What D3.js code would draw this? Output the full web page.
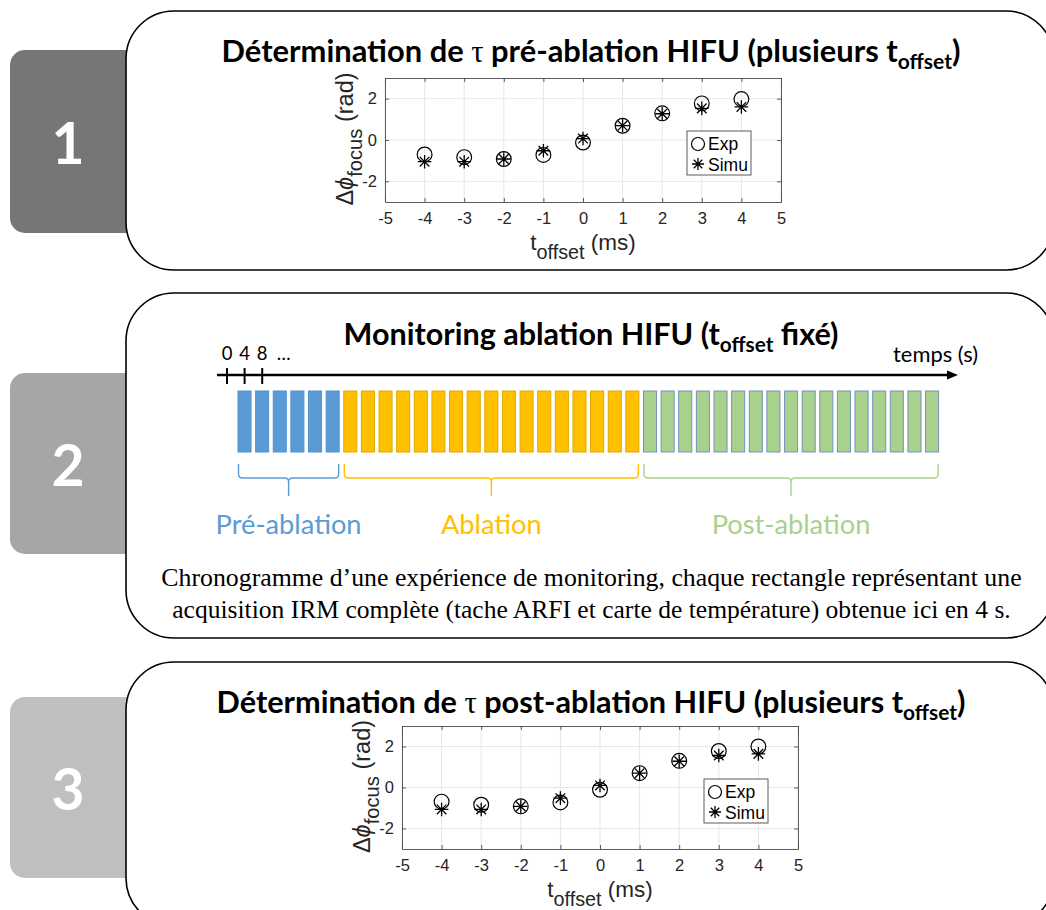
<!DOCTYPE html>
<html><head><meta charset="utf-8">
<script src="https://cdn.jsdelivr.net/npm/d3@7"></script>
<style>body{margin:0;background:#fff}</style>
</head><body>
<svg id="c" width="1046" height="910"></svg>
<script>
// ---------------- DATA ----------------
const offsets = [-4, -3, -2, -1, 0, 1, 2, 3, 4];
const preExp   = [-0.70, -0.83, -0.92, -0.72, -0.12, 0.69, 1.29, 1.77, 1.98];
const preSimu  = [-1.05, -1.05, -0.92, -0.52, 0.07, 0.70, 1.27, 1.53, 1.60];
const postExp  = [-0.69, -0.84, -0.92, -0.73, -0.11, 0.70, 1.30, 1.78, 2.00];
const postSimu = [-1.07, -1.07, -0.92, -0.52, 0.10, 0.70, 1.28, 1.56, 1.64];
const xTicks = [-5, -4, -3, -2, -1, 0, 1, 2, 3, 4, 5];
const yTicks = [-2, 0, 2];
const legendLabels = ["Exp", "Simu"];
const stepLabels = ["1", "2", "3"];
const phaseNames = ["Pré-ablation", "Ablation", "Post-ablation"];
const phaseCounts = [6, 17, 17];
const timeTicks = [0, 4, 8];
const timeTickLabels = ["0", "4", "8"];
const captionLines = [
  "Chronogramme d\u2019une expérience de monitoring, chaque rectangle représentant une",
  "acquisition IRM complète (tache ARFI et carte de température) obtenue ici en 4 s."
];

// ---------------- STYLE ----------------
const stepColors = ["#767676", "#a6a6a6", "#bfbfbf"];
const phaseFill = ["#5b9bd5", "#ffc000", "#a9d18e"];
const phaseStroke = ["#4f93d2", "#e0a900", "#7393b8"];
const phaseText = ["#5b9bd5", "#ffc000", "#a9d18e"];
const SANS = "Lato, 'Open Sans', sans-serif";
const MAT = "'Liberation Sans', Arial, sans-serif";
const SERIF = "'Liberation Serif', 'Times New Roman', serif";

const svg = d3.select("#c");
svg.append("rect").attr("width", 1046).attr("height", 910).attr("fill", "#fff");

function fitWidth(t, target) {
  const fs = parseFloat(t.attr("font-size"));
  const w = t.node().getBBox().width;
  if (w > 0) t.attr("font-size", fs * target / w);
}

// ---------------- STEP BOXES + PANELS ----------------
const boxes = [{y: 50, h: 183}, {y: 373, h: 181}, {y: 697, h: 181}];
const panels = [{y: 11, h: 259}, {y: 293, h: 345}, {y: 662, h: 264}];
boxes.forEach((b, i) => {
  svg.append("rect").attr("x", 10).attr("y", b.y).attr("width", 130).attr("height", b.h)
    .attr("rx", 15).attr("fill", stepColors[i]);
});
panels.forEach(p => {
  svg.append("rect").attr("x", 126).attr("y", p.y).attr("width", 928).attr("height", p.h)
    .attr("rx", 48).attr("fill", "#fff").attr("stroke", "#000").attr("stroke-width", 1.6);
});
boxes.forEach((b, i) => {
  svg.append("text").attr("x", 68).attr("y", b.y + b.h / 2 + 22)
    .attr("text-anchor", "middle").attr("font-family", SANS).attr("font-weight", 700)
    .attr("font-size", 57).attr("fill", "#fff").text(stepLabels[i]);
});

// ---------------- TITLES ----------------
function title(y, parts, target) {
  const t = svg.append("text").attr("x", 591).attr("y", y).attr("text-anchor", "middle")
    .attr("font-family", SANS).attr("font-weight", 700).attr("font-size", 26).attr("fill", "#000");
  parts.forEach(p => {
    const s = t.append("tspan").text(p.t);
    if (p.serif) s.attr("font-family", SERIF).attr("font-weight", 400);
    if (p.sub) s.style("font-size", "68%").attr("dy", "0.35em");
    if (p.up) s.attr("dy", "-0.24em");
  });
  fitWidth(t, target);
  return t;
}
title(62, [{t: "Détermination de "}, {t: "\u03c4", serif: true}, {t: " pré-ablation HIFU (plusieurs t"},
  {t: "offset", sub: true}, {t: ")", up: true}], 739);
title(345, [{t: "Monitoring ablation HIFU (t"}, {t: "offset", sub: true}, {t: " fixé)", up: true}], 495);
title(713, [{t: "Détermination de "}, {t: "\u03c4", serif: true}, {t: " post-ablation HIFU (plusieurs t"},
  {t: "offset", sub: true}, {t: ")", up: true}], 749);

// ---------------- SCATTER PLOTS ----------------
function drawPlot(L, R, T, B, exp, simu) {
  const g = svg.append("g");
  const x = d3.scaleLinear().domain([-5, 5]).range([L, R]);
  const y = d3.scaleLinear().domain([-3, 3]).range([B, T]);
  g.append("g").selectAll("line").data(xTicks).join("line")
    .attr("x1", d => x(d)).attr("x2", d => x(d)).attr("y1", T).attr("y2", B)
    .attr("stroke", "#e6e6e6").attr("stroke-width", 1);
  g.append("g").selectAll("line").data(yTicks).join("line")
    .attr("y1", d => y(d)).attr("y2", d => y(d)).attr("x1", L).attr("x2", R)
    .attr("stroke", "#e6e6e6").attr("stroke-width", 1);

  const fmt = d => String(d);
  const axB = g.append("g").attr("transform", `translate(0,${B})`)
    .call(d3.axisBottom(x).tickValues(xTicks).tickSizeInner(-4).tickSizeOuter(0).tickPadding(10).tickFormat(fmt));
  const axL = g.append("g").attr("transform", `translate(${L},0)`)
    .call(d3.axisLeft(y).tickValues(yTicks).tickSizeInner(-4).tickSizeOuter(0).tickPadding(8).tickFormat(fmt));
  g.append("g").attr("transform", `translate(0,${T})`)
    .call(d3.axisTop(x).tickValues(xTicks).tickSizeInner(-4).tickSizeOuter(0).tickFormat(""));
  g.append("g").attr("transform", `translate(${R},0)`)
    .call(d3.axisRight(y).tickValues(yTicks).tickSizeInner(-4).tickSizeOuter(0).tickFormat(""));
  g.selectAll(".domain, .tick line").attr("stroke", "#4a4a4a").attr("stroke-width", 0.9);
  [axB, axL].forEach(a => a.selectAll("text").attr("font-family", MAT).attr("font-size", 16.5).attr("fill", "#262626"));

  const pts = offsets.map((o, i) => ({o, e: exp[i], s: simu[i]}));
  g.append("g").selectAll("circle").data(pts).join("circle")
    .attr("cx", d => x(d.o)).attr("cy", d => y(d.e)).attr("r", 7.4)
    .attr("fill", "none").attr("stroke", "#000").attr("stroke-width", 1.2);
  const star = (cx, cy, a) => {
    const b = a * 0.7071;
    return `M${cx - a},${cy}H${cx + a}M${cx},${cy - a}V${cy + a}` +
      `M${cx - b},${cy - b}L${cx + b},${cy + b}M${cx - b},${cy + b}L${cx + b},${cy - b}`;
  };
  g.append("g").selectAll("path").data(pts).join("path")
    .attr("d", d => star(x(d.o), y(d.s), 6.8))
    .attr("fill", "none").attr("stroke", "#000").attr("stroke-width", 1.3);

  // legend
  const lx = R - 94, ly = T + 53;
  g.append("rect").attr("x", lx).attr("y", ly).attr("width", 64).attr("height", 44)
    .attr("fill", "#fff").attr("stroke", "#4a4a4a").attr("stroke-width", 0.9);
  g.append("circle").attr("cx", lx + 11).attr("cy", ly + 13).attr("r", 6.5)
    .attr("fill", "none").attr("stroke", "#000").attr("stroke-width", 1.2);
  g.append("path").attr("d", star(lx + 11, ly + 33, 6)).attr("fill", "none").attr("stroke", "#000").attr("stroke-width", 1.3);
  legendLabels.forEach((l, i) => {
    g.append("text").attr("x", lx + 21).attr("y", ly + 19 + i * 21).attr("font-family", MAT)
      .attr("font-size", 17.5).attr("fill", "#000").text(l);
  });

  // y label
  const yl = g.append("text").attr("transform", `translate(${L - 32},${(T + B) / 2 - 1}) rotate(-90)`)
    .attr("text-anchor", "middle").attr("font-family", MAT).attr("font-size", 23.5).attr("fill", "#262626");
  yl.append("tspan").text("\u0394");
  yl.append("tspan").attr("font-style", "italic").text("\u03d5");
  yl.append("tspan").style("font-size", "86%").attr("dy", "0.42em").text("focus");
  yl.append("tspan").attr("dy", "-0.37em").text(" (rad)");
  // x label
  const xl = g.append("text").attr("x", (L + R) / 2).attr("y", B + 48)
    .attr("text-anchor", "middle").attr("font-family", MAT).attr("font-size", 22.5).attr("fill", "#262626");
  xl.append("tspan").text("t");
  xl.append("tspan").style("font-size", "88%").attr("dy", "0.45em").text("offset");
  xl.append("tspan").attr("dy", "-0.4em").text(" (ms)");
}
drawPlot(385, 781, 78, 202, preExp, preSimu);
drawPlot(402, 798, 726, 849, postExp, postSimu);

// ---------------- TIMELINE ----------------
const total = d3.sum(phaseCounts);
const bars = [];
phaseCounts.forEach((c, p) => { for (let k = 0; k < c; k++) bars.push({i: bars.length, p}); });
const band = d3.scaleBand().domain(d3.range(total)).range([235.7, 940.9]).paddingInner(0.26).paddingOuter(0.13);
svg.append("g").selectAll("rect").data(bars).join("rect")
  .attr("x", d => band(d.i)).attr("y", 391).attr("width", band.bandwidth()).attr("height", 61)
  .attr("fill", d => phaseFill[d.p]).attr("stroke", d => phaseStroke[d.p]).attr("stroke-width", 1);

// time axis
const tx = d3.scaleLinear().domain([0, 4]).range([227, 244.6]);
svg.append("line").attr("x1", 217).attr("x2", 950).attr("y1", 375).attr("y2", 375)
  .attr("stroke", "#000").attr("stroke-width", 2.4);
svg.append("path").attr("d", "M958,375L947,370.5L947,379.5Z").attr("fill", "#000");
svg.append("g").selectAll("line").data(timeTicks).join("line")
  .attr("x1", d => tx(d)).attr("x2", d => tx(d)).attr("y1", 368).attr("y2", 384)
  .attr("stroke", "#000").attr("stroke-width", 2);
svg.append("g").selectAll("text").data(timeTicks).join("text")
  .attr("x", d => tx(d)).attr("y", 360).attr("text-anchor", "middle")
  .attr("font-family", SANS).attr("font-size", 18.5).attr("fill", "#000")
  .text((d, i) => timeTickLabels[i]);
svg.append("text").attr("x", tx(12) + 4).attr("y", 360).attr("text-anchor", "middle")
  .attr("font-family", SANS).attr("font-size", 18.5).attr("fill", "#000").text("\u2026");
const tl = svg.append("text").attr("x", 978).attr("y", 362).attr("text-anchor", "end")
  .attr("font-family", SANS).attr("font-size", 18).attr("fill", "#000").text("temps (s)");
fitWidth(tl, 85);

// braces + phase labels
let start = 0;
const phaseLabelNodes = [];
phaseCounts.forEach((c, p) => {
  const x0 = band(start) + 0.5, x1 = band(start + c - 1) + band.bandwidth() - 0.5;
  const xc = (x0 + x1) / 2, yT = 464, yM = 478, yP = 496, r = 4;
  const d = `M${x0},${yT}V${yM - r}Q${x0},${yM} ${x0 + r},${yM}H${xc - r}Q${xc},${yM} ${xc},${yM + r}V${yP}` +
    `M${xc},${yM + r}Q${xc},${yM} ${xc + r},${yM}H${x1 - r}Q${x1},${yM} ${x1},${yM - r}V${yT}`;
  svg.append("path").attr("d", d).attr("fill", "none").attr("stroke", phaseFill[p]).attr("stroke-width", 1.4);
  const t = svg.append("text").attr("x", xc).attr("y", 534).attr("text-anchor", "middle")
    .attr("font-family", SANS).attr("font-size", 25).attr("fill", phaseText[p]).text(phaseNames[p]);
  phaseLabelNodes.push(t);
  start += c;
});
fitWidth(phaseLabelNodes[0], 146);
const plSize = phaseLabelNodes[0].attr("font-size");
phaseLabelNodes.forEach(t => t.attr("font-size", plSize));

// caption
const capTargets = [861, 839];
const capY = [586, 618];
captionLines.forEach((line, i) => {
  const t = svg.append("text").attr("x", 591.5).attr("y", capY[i]).attr("text-anchor", "middle")
    .attr("font-family", SERIF).attr("font-size", 24).attr("fill", "#000").text(line);
  fitWidth(t, capTargets[i]);
});
</script>
</body></html>
